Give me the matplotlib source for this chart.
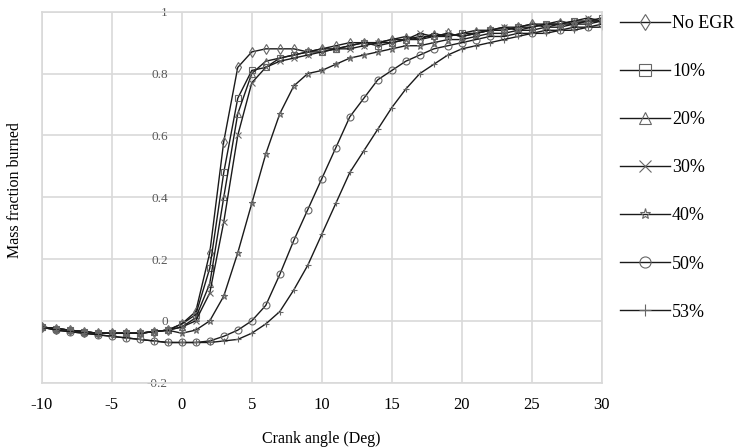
import numpy as np
import matplotlib
matplotlib.use('Agg')
import matplotlib.pyplot as plt

plt.rcParams['font.family'] = ['Liberation Serif', 'DejaVu Serif']
plt.rcParams['axes.unicode_minus'] = False

# crank angle, degrees
crank = list(range(-10, 31))

pre_fast = [-0.02, -0.025, -0.03, -0.035, -0.04, -0.04, -0.04, -0.04, -0.035, -0.03]
pre_slow = [-0.02, -0.03, -0.035, -0.04, -0.045, -0.05, -0.055, -0.06, -0.065, -0.07]

no_egr = pre_fast + [-0.01, 0.03, 0.22, 0.58, 0.82, 0.87, 0.88, 0.88, 0.88, 0.87,
                     0.88, 0.89, 0.90, 0.90, 0.90, 0.91, 0.91, 0.91, 0.92, 0.93,
                     0.92, 0.93, 0.94, 0.94, 0.95, 0.96, 0.95, 0.96, 0.96, 0.97, 0.97]
egr_10 = pre_fast + [-0.01, 0.02, 0.17, 0.48, 0.72, 0.81, 0.82, 0.85, 0.86, 0.87,
                     0.87, 0.88, 0.89, 0.90, 0.89, 0.90, 0.91, 0.92, 0.92, 0.92,
                     0.93, 0.93, 0.94, 0.94, 0.95, 0.95, 0.96, 0.96, 0.97, 0.97, 0.98]
egr_20 = pre_fast + [-0.02, 0.01, 0.12, 0.40, 0.67, 0.80, 0.84, 0.85, 0.86, 0.87,
                     0.88, 0.88, 0.89, 0.90, 0.90, 0.91, 0.92, 0.91, 0.93, 0.92,
                     0.93, 0.94, 0.94, 0.95, 0.95, 0.96, 0.96, 0.97, 0.96, 0.97, 0.97]
egr_30 = pre_fast + [-0.02, 0.00, 0.09, 0.32, 0.60, 0.77, 0.82, 0.84, 0.85, 0.86,
                     0.87, 0.88, 0.88, 0.89, 0.90, 0.90, 0.91, 0.93, 0.92, 0.93,
                     0.92, 0.93, 0.94, 0.95, 0.94, 0.95, 0.96, 0.96, 0.97, 0.98, 0.97]
egr_40 = pre_fast + [-0.04, -0.03, 0.00, 0.08, 0.22, 0.38, 0.54, 0.67, 0.76, 0.80,
                     0.81, 0.83, 0.85, 0.86, 0.87, 0.88, 0.89, 0.89, 0.90, 0.91,
                     0.91, 0.92, 0.93, 0.93, 0.94, 0.94, 0.95, 0.95, 0.96, 0.96, 0.97]
egr_50 = pre_slow + [-0.07, -0.07, -0.065, -0.05, -0.03, 0.00, 0.05, 0.15, 0.26, 0.36,
                     0.46, 0.56, 0.66, 0.72, 0.78, 0.81, 0.84, 0.86, 0.88, 0.89,
                     0.90, 0.91, 0.92, 0.92, 0.93, 0.93, 0.94, 0.94, 0.95, 0.95, 0.96]
egr_53 = pre_slow + [-0.07, -0.07, -0.07, -0.065, -0.06, -0.04, -0.01, 0.03, 0.10, 0.18,
                     0.28, 0.38, 0.48, 0.55, 0.62, 0.69, 0.75, 0.80, 0.83, 0.86,
                     0.88, 0.89, 0.90, 0.91, 0.92, 0.93, 0.93, 0.94, 0.94, 0.95, 0.95]

labels = ['No EGR', '10%', '20%', '30%', '40%', '50%', '53%']
series = [no_egr, egr_10, egr_20, egr_30, egr_40, egr_50, egr_53]
markers = ['d', 's', '^', 'x', '*', 'o', '+']

fig = plt.figure(figsize=(7.43, 4.48), dpi=100)
ax = fig.add_axes([0.0561, 0.1458, 0.754, 0.828])

for y, lab, m in zip(series, labels, markers):
    ax.plot(crank, y, color='#1a1a1a', lw=1.0, marker=m, ms=5,
            mfc='none', mec='#666666', mew=0.8, label=lab)

ax.set_xlim(-10, 30)
ax.set_ylim(-0.2, 1)
ax.set_xticks(np.arange(-10, 31, 5))
ax.set_yticks(np.round(np.arange(-0.2, 1.01, 0.2), 1))
ax.set_yticklabels(['-0.2', '0', '0.2', '0.4', '0.6', '0.8', '1'])
ax.grid(True, color='#d9d9d9', lw=1.2)
ax.set_axisbelow(True)

# y tick labels sit on the x = 0 line
ax.spines['left'].set_position(('data', 0))
ax.spines['left'].set_color('none')
for s in ['top', 'right', 'bottom']:
    ax.spines[s].set_color('#d9d9d9')
    ax.spines[s].set_linewidth(1.2)
ax.axvline(-10, color='#d9d9d9', lw=1.2, clip_on=False, zorder=0)

ax.tick_params(axis='y', length=0, pad=10, labelsize=9.5, labelcolor='#595959')
ax.tick_params(axis='x', length=0, pad=10, labelsize=12, labelcolor='black')

fig.text(0.433, 0.02, 'Crank angle (Deg)', fontsize=11.5, ha='center', va='center')
fig.text(0.02, 0.576, 'Mass fraction burned', rotation=90, fontsize=11.5,
         ha='center', va='center')

ax.legend(loc='upper left', bbox_to_anchor=(0.834, 0.966),
          bbox_transform=fig.transFigure, frameon=False, fontsize=13,
          handlelength=2.8, handletextpad=0.1, labelspacing=1.72,
          borderpad=0, borderaxespad=0, markerscale=1.6)

fig.savefig('out.png', dpi=100)
